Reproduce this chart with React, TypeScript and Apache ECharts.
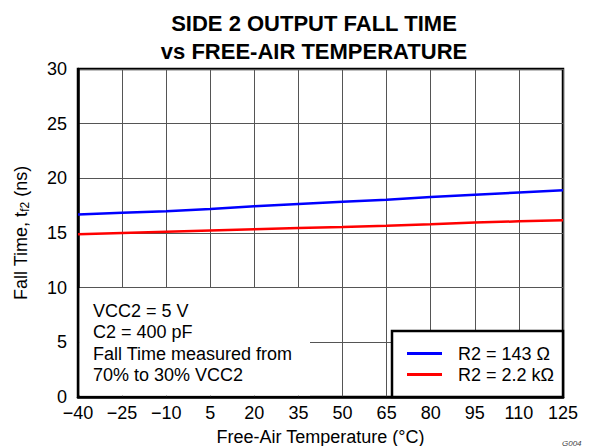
import React, { useEffect, useRef } from "react";
import * as echarts from "echarts";

const temperatures = [-40, -25, -10, 5, 20, 35, 50, 65, 80, 95, 110, 125];
const fallR143 = [16.7, 16.85, 17.0, 17.2, 17.45, 17.65, 17.85, 18.05, 18.3, 18.5, 18.7, 18.9];
const fallR2k2 = [14.88, 15.0, 15.12, 15.23, 15.34, 15.45, 15.55, 15.67, 15.8, 15.95, 16.07, 16.16];
const seriesNames = ["R2 = 143 Ω", "R2 = 2.2 kΩ"];
const titleLines = ["SIDE 2 OUTPUT FALL TIME", "vs FREE-AIR TEMPERATURE"];
const noteLines = ["VCC2 = 5 V", "C2 = 400 pF", "Fall Time measured from", "70% to 30% VCC2"];

const FONT = "Liberation Sans, Arial, Helvetica, sans-serif";

export default function App() {
  const ref = useRef<HTMLDivElement>(null);
  useEffect(() => {
    document.body.style.margin = "0";
    const chart = echarts.init(ref.current!, undefined, { renderer: "svg" });
    const gridLeft = 78;
    const gridTop = 69;
    const gridRight = 563;
    const gridBottom = 397;
    chart.setOption({
      animation: false,
      backgroundColor: "#fff",
      textStyle: { fontFamily: FONT },
      title: {
        text: titleLines.join("\n"),
        left: 309,
        top: 4,
        textAlign: "center",
        textStyle: { fontFamily: FONT, fontSize: 22, fontWeight: "bold", color: "#000", lineHeight: 28 },
      },
      grid: {
        left: gridLeft,
        top: gridTop,
        right: 592 - gridRight,
        bottom: 446 - gridBottom,
        outerBoundsMode: "none",
        containLabel: false,
        show: true,
        borderColor: "#000",
        borderWidth: 2.5,
        backgroundColor: "transparent",
      },
      legend: {
        orient: "vertical",
        left: 402,
        top: 339,
        itemWidth: 35,
        itemHeight: 3,
        itemGap: 2,
        icon: "rect",
        data: seriesNames,
        textStyle: { fontFamily: FONT, fontSize: 18, color: "#000", padding: [0, 0, 0, 11], lineHeight: 19 },
      },
      xAxis: {
        type: "category",
        boundaryGap: false,
        data: temperatures.map(String),
        name: "Free-Air Temperature (°C)",
        nameLocation: "middle",
        nameGap: 31,
        nameTextStyle: { fontFamily: FONT, fontSize: 18, color: "#000" },
        axisLine: { lineStyle: { color: "#000", width: 2.5 } },
        axisTick: { show: false },
        axisLabel: {
          fontFamily: FONT,
          fontSize: 18,
          color: "#000",
          margin: 7,
          interval: 0,
          formatter: (v: string) => v.replace("-", "\u2212"),
        },
        splitLine: { show: true, lineStyle: { color: "#555", width: 1 } },
      },
      yAxis: {
        type: "value",
        min: 0,
        max: 30,
        interval: 5,
        name: "Fall Time, t{sub|f2} (ns)",
        nameLocation: "middle",
        nameGap: 47,
        nameTextStyle: {
          fontFamily: FONT,
          fontSize: 18,
          color: "#000",
          rich: {
            sub: { fontFamily: FONT, fontSize: 12, color: "#000", verticalAlign: "bottom", padding: [8, 0, 0, 0] },
          },
        },
        axisLine: { show: true, lineStyle: { color: "#000", width: 2.5 } },
        axisTick: { show: false },
        axisLabel: { fontFamily: FONT, fontSize: 18, color: "#000", margin: 11 },
        splitLine: { show: true, lineStyle: { color: "#555", width: 1 } },
      },
      graphic: [
        {
          type: "rect",
          z: 1,
          shape: { x: gridLeft + 1.5, y: 288, width: 310 - gridLeft - 1.5, height: gridBottom - 1.5 - 288 },
          style: { fill: "#fff" },
        },
        {
          type: "text",
          z: 2,
          x: 93,
          y: 300,
          style: {
            text: noteLines.join("\n"),
            fontFamily: FONT,
            fontSize: 18,
            lineHeight: 21.5,
            fill: "#000",
          },
        },
        {
          type: "rect",
          z: 1,
          shape: { x: 392, y: 331, width: gridRight - 392, height: gridBottom - 331 },
          style: { fill: "#fff", stroke: "#000", lineWidth: 2.5 },
        },
        {
          type: "text",
          z: 2,
          x: 562,
          y: 439,
          style: { text: "G004", fontFamily: FONT, fontSize: 8, fontStyle: "italic", fill: "#444" },
        },
      ],
      series: [
        {
          name: seriesNames[0],
          type: "line",
          data: fallR143,
          showSymbol: false,
          lineStyle: { color: "#0000ff", width: 2.5 },
          itemStyle: { color: "#0000ff" },
          z: 3,
        },
        {
          name: seriesNames[1],
          type: "line",
          data: fallR2k2,
          showSymbol: false,
          lineStyle: { color: "#ff0000", width: 2.5 },
          itemStyle: { color: "#ff0000" },
          z: 3,
        },
      ],
    });
    return () => chart.dispose();
  }, []);
  return <div ref={ref} style={{ width: 592, height: 446 }} />;
}
